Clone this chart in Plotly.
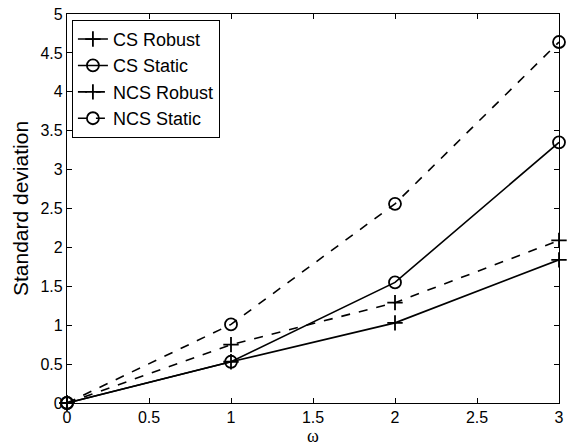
import plotly.graph_objects as go

omega = [0, 1, 2, 3]
cs_robust = [0, 0.53, 1.03, 1.84]
cs_static = [0, 0.53, 1.55, 3.35]
ncs_robust = [0, 0.75, 1.29, 2.09]
ncs_static = [0, 1.01, 2.56, 4.64]

series = [
    ("CS Robust", cs_robust, "solid", "cross-thin-open", 11),
    ("CS Static", cs_static, "solid", "circle-open", 12),
    ("NCS Robust", ncs_robust, "dash", "cross-thin-open", 11),
    ("NCS Static", ncs_static, "dash", "circle-open", 12),
]

fig = go.Figure()
for name, vals, dash, sym, sz in series:
    fig.add_trace(go.Scatter(
        x=omega, y=vals, name=name, mode="lines+markers",
        line=dict(color="black", width=1.6, dash=dash),
        marker=dict(symbol=sym, size=sz, color="black",
                    line=dict(color="black", width=1.8)),
        cliponaxis=False,
    ))

axis_common = dict(
    showline=True, linecolor="black", linewidth=1.2, mirror="ticks",
    ticks="inside", ticklen=5, tickcolor="black", tickwidth=1,
    showgrid=False, zeroline=False,
    tickfont=dict(family="Liberation Sans, Arial", size=16, color="black"),
)

fig.update_layout(
    width=570, height=448,
    margin=dict(l=67, r=6, t=14, b=42),
    paper_bgcolor="white", plot_bgcolor="white",
    showlegend=True,
    legend=dict(
        x=0.01, y=0.985, xanchor="left", yanchor="top",
        bgcolor="white", bordercolor="black", borderwidth=1,
        font=dict(family="Liberation Sans, Arial", size=18, color="black"),
        tracegroupgap=0, itemwidth=30,
    ),
    xaxis=dict(range=[0, 3], dtick=0.5, tick0=0,
               title=dict(text="ω", font=dict(family="Liberation Serif, Times New Roman", size=18, color="black"), standoff=3),
               **axis_common),
    yaxis=dict(range=[0, 5], dtick=0.5, tick0=0,
               title=dict(text="Standard deviation", font=dict(family="Liberation Sans, Arial", size=21, color="black"), standoff=6),
               **axis_common),
)

fig.write_html("out.html", config={"displayModeBar": False},
               post_script="document.body.style.margin='0';")
